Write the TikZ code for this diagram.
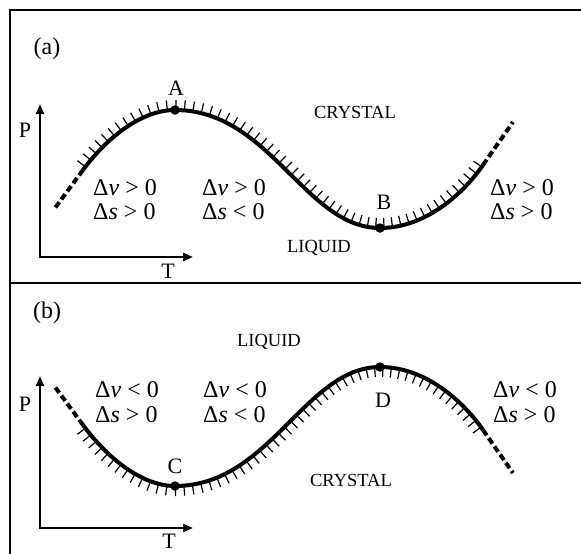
\documentclass[tikz,border=0pt]{standalone}
\usepackage{fontspec}
\setmainfont{Liberation Serif}
\usetikzlibrary{arrows.meta,decorations.markings}
\begin{document}
\begin{tikzpicture}[x=1pt,y=-1pt,
  frame/.style={line width=2.2pt,line join=miter},
  axis/.style={line width=2.2pt,line join=miter,{Triangle[length=10pt,width=8pt]}-{Triangle[length=10pt,width=8pt]}},
  curve/.style={line width=4pt},
  dashpart/.style={line width=4pt,dash pattern=on 6.5pt off 3.5pt},
  hatchup/.style={postaction={decorate},decoration={markings,
    mark=between positions 4pt and -2pt step 8.5pt with {\draw[line width=1.2pt] (0pt,1.5pt) -- (0pt,10pt);}}},
  hatchdown/.style={postaction={decorate},decoration={markings,
    mark=between positions 4pt and -2pt step 8.5pt with {\draw[line width=1.2pt] (0pt,-1.5pt) -- (0pt,-10pt);}}},
  dot/.style={circle,fill=black,inner sep=0pt,minimum size=9.5pt},
  lbl/.style={inner sep=0pt,font=\fontsize{22}{26}\selectfont},
  region/.style={inner sep=0pt,anchor=base,font=\fontsize{18.5}{22}\selectfont},
  rel/.style={inner sep=0pt,anchor=base west,font=\fontsize{24}{28}\selectfont},
  tag/.style={inner sep=0pt,font=\fontsize{24}{28}\selectfont}
]
\useasboundingbox (0,0) rectangle (581,554);
% frame
\coordinate (fTR) at (581,10);
\coordinate (fTL) at (10,10);
\coordinate (fBL) at (10,554);
\coordinate (fML) at (10,283);
\coordinate (fMR) at (581,283);
\draw[frame] (fTR) -- (fTL) -- (fBL);
\draw[frame] (fML) -- (fMR);

% ===== panel (a) =====
\coordinate (oa) at (40,257);
\coordinate (ya) at (40,104);
\coordinate (xa) at (193,257);
\draw[axis] (ya) -- (oa) -- (xa);
\node[lbl] (lPa) at (25,130) {P};
\node[lbl] (lTa) at (168,271) {T};
\node[tag] (ta) at (47,49) {(a)};

\coordinate (a0) at (55,208);
\coordinate (a1) at (83,170);
\coordinate (pA) at (175,110);
\coordinate (pB) at (380,228);
\coordinate (a2) at (483,165);
\coordinate (a3) at (513,122);
\draw[dashpart] (a1) -- (a0);
\draw[dashpart] (a2) -- (a3);
\draw[curve,hatchup] (a1) .. controls (105,140) and (140,110) .. (pA)
  .. controls (270,110) and (305,228) .. (pB)
  .. controls (428,228) and (466,190) .. (a2);
\node[dot] (dA) at (pA) {};
\node[dot] (dB) at (pB) {};
\node[lbl] (lA) at (176,88) {A};
\node[lbl] (lB) at (384,202) {B};
\node[region] (cra) at (355,118) {CRYSTAL};
\node[region] (lqa) at (319,252) {LIQUID};

\node[rel] (a11) at (93,195) {Δ\textit{v} > 0};
\node[rel] (a12) at (93,219) {Δ\textit{s} > 0};
\node[rel] (a21) at (202,195) {Δ\textit{v} > 0};
\node[rel] (a22) at (202,219) {Δ\textit{s} < 0};
\node[rel] (a31) at (490,195) {Δ\textit{v} > 0};
\node[rel] (a32) at (490,219) {Δ\textit{s} > 0};

% ===== panel (b) =====
\coordinate (ob) at (40,528);
\coordinate (yb) at (40,376);
\coordinate (xb) at (193,528);
\draw[axis] (yb) -- (ob) -- (xb);
\node[lbl] (lPb) at (25,404) {P};
\node[lbl] (lTb) at (169,541) {T};
\node[tag] (tb) at (47,313) {(b)};

\coordinate (b0) at (55,387);
\coordinate (b1) at (83,425);
\coordinate (pC) at (175,486);
\coordinate (pD) at (380,367);
\coordinate (b2) at (483,430);
\coordinate (b3) at (513,473);
\draw[dashpart] (b1) -- (b0);
\draw[dashpart] (b2) -- (b3);
\draw[curve,hatchdown] (b1) .. controls (105,455) and (140,486) .. (pC)
  .. controls (270,486) and (305,367) .. (pD)
  .. controls (428,367) and (466,405) .. (b2);
\node[dot] (dC) at (pC) {};
\node[dot] (dD) at (pD) {};
\node[lbl] (lC) at (175,466) {C};
\node[lbl] (lD) at (383,400) {D};
\node[region] (crb) at (351,486) {CRYSTAL};
\node[region] (lqb) at (269,346) {LIQUID};

\node[rel] (b11) at (95,397) {Δ\textit{v} < 0};
\node[rel] (b12) at (95,422) {Δ\textit{s} > 0};
\node[rel] (b21) at (203,397) {Δ\textit{v} < 0};
\node[rel] (b22) at (203,422) {Δ\textit{s} < 0};
\node[rel] (b31) at (493,397) {Δ\textit{v} < 0};
\node[rel] (b32) at (493,422) {Δ\textit{s} > 0};
\end{tikzpicture}
\end{document}
